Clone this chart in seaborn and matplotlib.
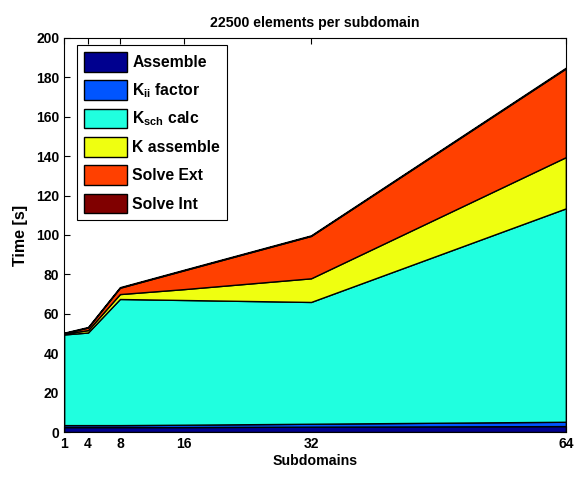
import matplotlib
matplotlib.use("Agg")
import matplotlib.pyplot as plt
import seaborn as sns

# Datos (tiempo en segundos por componente)
subdomains = [1, 4, 8, 16, 32, 64]
assemble = [2.5, 2.5, 2.5, 2.5, 2.7, 3.0]
kii_factor = [1.0, 1.0, 1.0, 1.2, 1.5, 2.2]
ksch_calc = [46.0, 47.0, 64.0, 63.3, 61.8, 108.3]
k_assemble = [0.4, 1.2, 2.5, 5.5, 12.0, 26.0]
solve_ext = [0.3, 1.3, 3.2, 9.5, 21.5, 45.0]
solve_int = [0.2, 0.3, 0.3, 0.3, 0.3, 0.4]

etiquetas = ["Assemble", r"K$_{ii}$ factor", r"K$_{sch}$ calc",
             "K assemble", "Solve Ext", "Solve Int"]
colores = ["#00008F", "#0055FF", "#20FFDF", "#EFFF10", "#FF4000", "#800000"]
yticks = list(range(0, 201, 20))


def generar_grafico():
    sns.set_theme(style="ticks")
    plt.rcParams["font.family"] = ["Liberation Sans", "DejaVu Sans"]
    plt.rcParams["font.weight"] = "bold"
    plt.rcParams["text.color"] = "black"
    plt.rcParams["axes.labelcolor"] = "black"
    plt.rcParams["mathtext.fontset"] = "custom"
    plt.rcParams["mathtext.rm"] = "Liberation Sans:bold"
    plt.rcParams["mathtext.default"] = "rm"

    fig = plt.figure(figsize=(5.78, 4.8), dpi=100)
    ax = fig.add_axes([0.111, 0.1, 0.868, 0.821])

    ax.stackplot(subdomains, assemble, kii_factor, ksch_calc, k_assemble,
                 solve_ext, solve_int, labels=etiquetas, colors=colores,
                 edgecolor="black", linewidth=1.0)

    ax.set_xlim(1, 64)
    ax.set_ylim(0, 200)
    ax.set_xticks(subdomains)
    ax.set_yticks(yticks)
    ax.tick_params(direction="in", top=True, right=True, length=4,
                   width=0.8, labelsize=10, colors="black")
    for lbl in ax.get_xticklabels() + ax.get_yticklabels():
        lbl.set_fontweight("bold")
    for s in ax.spines.values():
        s.set_visible(True)
        s.set_color("black")
        s.set_linewidth(0.8)

    ax.set_title("22500 elements per subdomain", fontsize=10.2,
                 fontweight="bold", pad=8, color="black")
    ax.set_xlabel("Subdomains", fontsize=10.2, fontweight="bold", labelpad=2)
    ax.set_ylabel("Time [s]", fontsize=11.5, fontweight="bold", labelpad=6)

    leg = ax.legend(loc="upper left", fontsize=11.3, frameon=True,
                    fancybox=False, handlelength=2.75, handleheight=1.55,
                    labelspacing=0.55, borderpad=0.45, handletextpad=0.3,
                    borderaxespad=0, bbox_to_anchor=(0.026, 0.982))
    leg.get_frame().set_edgecolor("black")
    leg.get_frame().set_linewidth(0.8)
    leg.get_frame().set_alpha(1)
    for t in leg.get_texts():
        t.set_fontweight("bold")
        t.set_color("black")

    fig.savefig("out.png", dpi=100)


if __name__ == "__main__":
    generar_grafico()
